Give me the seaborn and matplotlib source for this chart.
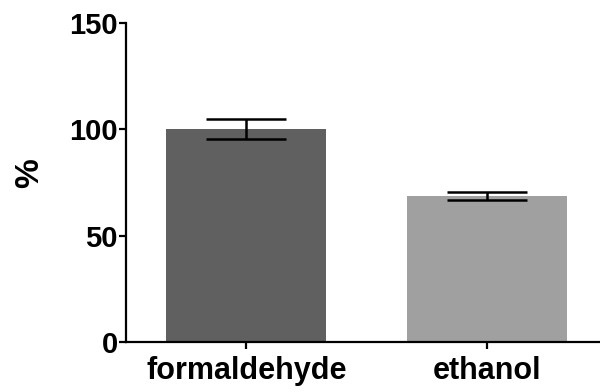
import matplotlib
matplotlib.use("Agg")
import matplotlib.pyplot as plt
import seaborn as sns

categories = ["formaldehyde", "ethanol"]
values = [100.0, 68.8]
errors = [4.7, 1.9]
colors = ["#606060", "#a0a0a0"]
yticks = [0, 50, 100, 150]

sns.set_style("ticks")
plt.rcParams['font.family'] = ['Liberation Sans', 'DejaVu Sans']
plt.rcParams['font.weight'] = 'bold'
plt.rcParams['text.color'] = 'black'
plt.rcParams['axes.labelcolor'] = 'black'
plt.rcParams['xtick.color'] = 'black'
plt.rcParams['ytick.color'] = 'black'

fig = plt.figure(figsize=(6, 3.92), dpi=100)
ax = fig.add_axes([0.21, 0.1276, 0.79, 0.8138])

sns.barplot(x=categories, y=values, hue=categories, palette=colors,
            legend=False, errorbar=None, width=0.664, saturation=1, ax=ax,
            edgecolor="none")

xs = ax.get_xticks()
ax.errorbar(xs, values, yerr=errors, fmt="none", ecolor="black",
            elinewidth=1.8, capsize=28.5, capthick=1.8)

ax.set_ylim(0, 150)
ax.set_xlim(-0.5, 1.47)
ax.set_yticks(yticks)
ax.set_ylabel("%", fontsize=24, fontweight="bold", color="black")
ax.yaxis.set_label_coords(-0.17, 0.53)
ax.set_xlabel("")
sns.despine(ax=ax)
for s in ["left", "bottom"]:
    ax.spines[s].set_linewidth(1.6)
    ax.spines[s].set_color("black")
ax.tick_params(axis="both", width=1.6, length=5, color="black", labelcolor="black")
ax.tick_params(axis="y", pad=1, labelsize=21)
ax.tick_params(axis="x", pad=5, labelsize=22)
for lab in ax.get_xticklabels() + ax.get_yticklabels():
    lab.set_fontweight("bold")

fig.savefig("out.png", dpi=100)
